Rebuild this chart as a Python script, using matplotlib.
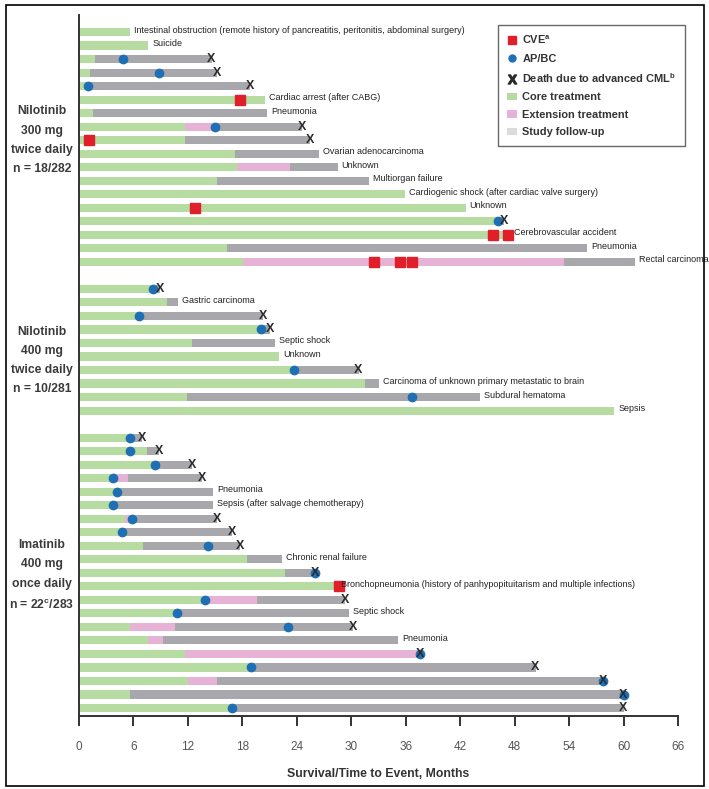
#! /usr/bin/env python3
import matplotlib
matplotlib.use('Agg')
import matplotlib.pyplot as plt
from matplotlib.lines import Line2D
from matplotlib.patches import Patch, Rectangle

plt.rcParams['font.family'] = ['Liberation Sans', 'DejaVu Sans']
plt.rcParams['mathtext.fontset'] = 'custom'
plt.rcParams['mathtext.rm'] = 'Liberation Sans'
plt.rcParams['mathtext.bf'] = 'Liberation Sans:bold'

CORE_COLOR = '#b6dca2'
EXT_COLOR = '#e6b2d6'
FU_COLOR = '#a8a8ac'
CVE_COLOR = '#e11f2b'
APBC_COLOR = '#1f6fb4'

# --- Nilotinib 300 mg twice daily (18 patients) ---
n300_core = [5.6, 7.6, 1.8, 1.2, 1.0, 20.5, 1.5, 11.7, 11.7, 17.2, 17.4, 15.2,
             35.9, 42.6, 46.3, 47.5, 16.3, 18.1]
n300_ext = [5.6, 7.6, 1.8, 1.2, 1.0, 20.5, 1.5, 14.8, 11.7, 17.2, 23.3, 15.2,
            35.9, 42.6, 46.3, 47.5, 16.3, 53.4]
n300_end = [5.6, 7.6, 14.6, 15.2, 18.8, 20.5, 20.7, 24.6, 25.5, 26.4, 28.5, 31.9,
            35.9, 42.6, 46.8, 47.5, 56.0, 61.3]
n300_cve = [[], [], [], [], [], [17.7], [], [], [1.1], [], [], [],
            [], [12.8], [], [45.6, 47.3], [], [32.5, 35.4, 36.7]]
n300_apbc = [None, None, 4.9, 8.8, 1.0, None, None, 15.0, None, None, None, None,
             None, None, 46.2, None, None, None]
n300_cml_death = [False, False, True, True, True, False, False, True, True, False,
                  False, False, False, False, True, False, False, False]
n300_cause = ['Intestinal obstruction (remote history of pancreatitis, peritonitis, abdominal surgery)',
              'Suicide', '', '', '', 'Cardiac arrest (after CABG)', 'Pneumonia', '', '',
              'Ovarian adenocarcinoma', 'Unknown', 'Multiorgan failure',
              'Cardiogenic shock (after cardiac valve surgery)', 'Unknown', '',
              'Cerebrovascular accident', 'Pneumonia', 'Rectal carcinoma']

# --- Nilotinib 400 mg twice daily (10 patients) ---
n400_core = [8.1, 9.7, 6.6, 20.1, 12.5, 22.0, 23.7, 31.5, 11.9, 59.0]
n400_ext = [8.1, 9.7, 6.6, 20.1, 12.5, 22.0, 23.7, 31.5, 11.9, 59.0]
n400_end = [8.9, 10.9, 20.3, 21.1, 21.6, 22.0, 30.8, 33.0, 44.2, 59.0]
n400_cve = [[], [], [], [], [], [], [], [], [], []]
n400_apbc = [8.1, None, 6.6, 20.1, None, None, 23.7, None, 36.7, None]
n400_cml_death = [True, False, True, True, False, False, True, False, False, False]
n400_cause = ['', 'Gastric carcinoma', '', '', 'Septic shock', 'Unknown', '',
              'Carcinoma of unknown primary metastatic to brain',
              'Subdural hematoma', 'Sepsis']

# --- Imatinib 400 mg once daily ---
ima_core = [5.6, 7.5, 8.4, 3.7, 4.2, 3.7, 5.1, 4.7, 7.1, 18.5, 22.7, 28.4,
            13.5, 10.8, 5.6, 7.6, 11.7, 18.9, 12.0, 5.6, 16.9]
ima_ext = [5.6, 7.5, 8.4, 5.4, 4.2, 3.7, 5.8, 4.7, 7.1, 18.5, 22.7, 28.4,
           19.6, 10.8, 10.6, 9.3, 37.6, 18.9, 15.2, 5.6, 16.9]
ima_end = [6.9, 8.8, 12.5, 13.6, 14.8, 14.8, 15.2, 16.9, 17.7, 22.4, 26.0, 28.4,
           29.3, 29.7, 30.2, 35.2, 37.6, 50.3, 57.7, 60.0, 60.0]
ima_cve = [[], [], [], [], [], [], [], [], [], [], [], [28.6],
           [], [], [], [], [], [], [], [], []]
ima_apbc = [5.6, 5.6, 8.4, 3.7, 4.2, 3.7, 5.8, 4.7, 14.2, None, 26.0, None,
            13.9, 10.8, 23.0, None, 37.6, 18.9, 57.7, 60.0, 16.9]
ima_cml_death = [True, True, True, True, False, False, True, True, True, False,
                 True, False, True, False, True, False, True, True, True, True, True]
ima_cause = ['', '', '', '', 'Pneumonia', 'Sepsis (after salvage chemotherapy)',
             '', '', '', 'Chronic renal failure', '',
             'Bronchopneumonia (history of panhypopituitarism and multiple infections)',
             '', 'Septic shock', '', 'Pneumonia', '', '', '', '', '']

group_titles = ['Nilotinib\n300 mg\ntwice daily\nn = 18/282',
                'Nilotinib\n400 mg\ntwice daily\nn = 10/281',
                'Imatinib\n400 mg\nonce daily\nn = 22$^{\\mathbf{c}}$/283']
x_ticks = [0, 6, 12, 18, 24, 30, 36, 42, 48, 54, 60, 66]


def draw_group(ax, start, core, ext, end, cve, apbc, death, cause):
    """Draws one arm of the swimmer plot; returns the row positions used."""
    rows = [start + i for i in range(len(core))]
    h = 0.6
    core_left = [0] * len(core)
    ax.barh(rows, core, left=core_left, height=h, color=CORE_COLOR, zorder=2)
    ax.barh(rows, [e - c for c, e in zip(core, ext)], left=core, height=h,
            color=EXT_COLOR, zorder=2)
    ax.barh(rows, [t - e for e, t in zip(ext, end)], left=ext, height=h,
            color=FU_COLOR, zorder=2)

    for y, times in zip(rows, cve):
        for t in times:
            ax.plot(t, y, 's', color=CVE_COLOR, markersize=6.5, zorder=4)
    for y, t in zip(rows, apbc):
        if t is not None:
            ax.plot(t, y, 'o', color=APBC_COLOR, markersize=6, zorder=4)
    for y, t, d in zip(rows, end, death):
        if d:
            ax.text(t, y, 'X', ha='center', va='center', fontsize=9,
                    fontweight='bold', color='#2a2a2a', zorder=5)
    for y, t, label in zip(rows, end, cause):
        if label:
            ax.text(t + 0.45, y - 0.15, label, ha='left', va='center',
                    fontsize=6.5, color='#222222', zorder=5)
    return rows


def main():
    fig = plt.figure(figsize=(7.09, 7.89), dpi=100)
    ax = fig.add_axes([79 / 709, 1 - 716 / 789, 599 / 709, 701 / 789])

    r300 = draw_group(ax, 0, n300_core, n300_ext, n300_end, n300_cve,
                      n300_apbc, n300_cml_death, n300_cause)
    r400 = draw_group(ax, r300[-1] + 2, n400_core, n400_ext, n400_end, n400_cve,
                      n400_apbc, n400_cml_death, n400_cause)
    rima = draw_group(ax, r400[-1] + 2, ima_core, ima_ext, ima_end, ima_cve,
                      ima_apbc, ima_cml_death, ima_cause)

    ax.set_xlim(0, 66)
    ax.set_ylim(50.59, -1.26)
    ax.set_yticks([])
    ax.set_xticks(x_ticks)
    ax.set_xticklabels([str(t) for t in x_ticks], fontsize=8.5, color='#555555')
    ax.tick_params(axis='x', direction='out', length=7, width=1.4, pad=11,
                   color='#333333')
    for side in ['top', 'right']:
        ax.spines[side].set_visible(False)
    for side in ['left', 'bottom']:
        ax.spines[side].set_linewidth(1.4)
        ax.spines[side].set_color('#333333')
    ax.set_xlabel('Survival/Time to Event, Months', fontsize=8.8, fontweight='bold',
                  color='#333333', labelpad=11)

    # arm labels on the left, centred a little off each block of rows
    title_y = [r300[0] + 8.0, r400[0] + 5.3, rima[0] + 10.2]
    for title, yc in zip(group_titles, title_y):
        ax.text(-4.1, yc, title, ha='center', va='center', fontsize=8.7,
                fontweight='bold', color='#3a3a3a', linespacing=1.8)

    handles = [
        Line2D([], [], marker='s', color=CVE_COLOR, linestyle='', markersize=5.5),
        Line2D([], [], marker='o', color=APBC_COLOR, linestyle='', markersize=5),
        Line2D([], [], marker=r'$\mathbf{X}$', color='#2a2a2a', linestyle='',
               markersize=6.5),
        Patch(facecolor=CORE_COLOR),
        Patch(facecolor=EXT_COLOR),
        Patch(facecolor='#d9dcdc'),
    ]
    labels = ['CVE$^{\\mathbf{a}}$', 'AP/BC',
              'Death due to advanced CML$^{\\mathbf{b}}$',
              'Core treatment', 'Extension treatment', 'Study follow-up']
    leg = ax.legend(handles, labels, loc='upper right',
                    bbox_to_anchor=((685 - 79) / 599, 1 - 10 / 701),
                    fontsize=7.9, frameon=True, fancybox=False,
                    edgecolor='#444444', handlelength=0.9, handletextpad=0.5,
                    labelspacing=0.68, borderpad=0.8, borderaxespad=0)
    leg.get_frame().set_linewidth(1.0)
    for t in leg.get_texts():
        t.set_fontweight('bold')
        t.set_color('#333333')

    # frame round the whole figure
    fig.patches.append(Rectangle((6 / 709, 3 / 789), 698 / 709, 781 / 789,
                                 transform=fig.transFigure, fill=False,
                                 edgecolor='black', linewidth=1.2))

    fig.savefig('out.png', dpi=100)


if __name__ == '__main__':
    main()
